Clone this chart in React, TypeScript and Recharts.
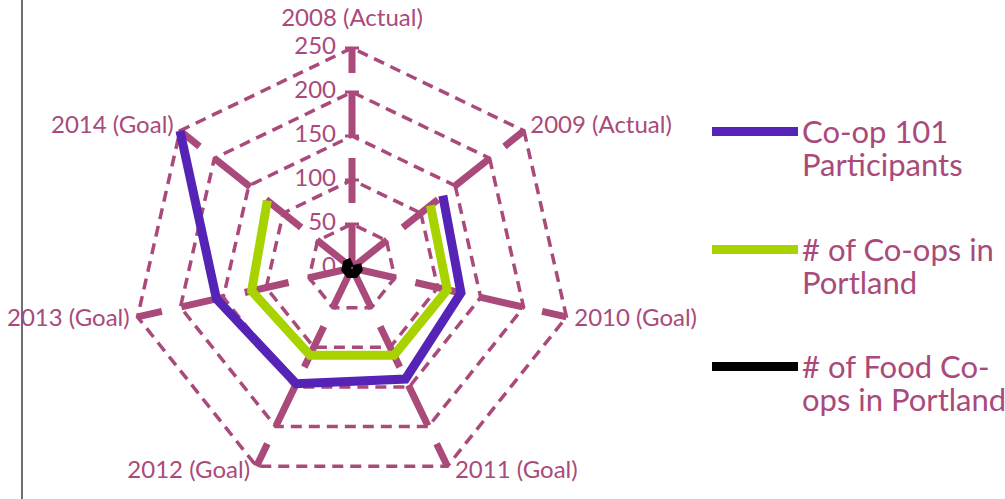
import React from 'react';
import { RadarChart, Radar, PolarGrid, PolarAngleAxis, PolarRadiusAxis, Legend } from 'recharts';

// Categories (2008 placed last so the open series start at 2009)
const years = ['2009 (Actual)', '2010 (Goal)', '2011 (Goal)', '2012 (Goal)', '2013 (Goal)', '2014 (Goal)', '2008 (Actual)'];
const coop101Participants = [132, 127, 140, 146, 158, 250, null];
const coopsInPortland = [114, 111, 110, 110, 117, 123, null];
const foodCoopsInPortland = [7, 7, 7, 7, 7, 7, 7];
const radiusTicks = [0, 50, 100, 150, 200, 250];

const seriesKeys = ['coop101', 'coops', 'food'];
const seriesNames = ['Co-op 101\nParticipants', '# of Co-ops in\nPortland', '# of Food Co-\nops in Portland'];
const seriesColors = ['#5523B5', '#A9D300', '#000000'];

const MAGENTA = '#A94A7B';
const FONT = 'Lato, "Open Sans", sans-serif';

const data = years.map((year, i) => ({
  year,
  coop101: coop101Participants[i],
  coops: coopsInPortland[i],
  food: foodCoopsInPortland[i],
}));

const AngleTick = (props: any) => {
  const { x, y, payload, textAnchor } = props;
  let dx = 0;
  let dy = 7;
  if (textAnchor === 'middle') dy = -14;
  else if (y > 400) {
    dy = 5;
    dx = textAnchor === 'start' ? 4 : -3;
  }
  return (
    <text x={x} y={y} dx={dx} dy={dy} textAnchor={textAnchor} fill={MAGENTA} fontSize={24} fontFamily={FONT}>
      {payload.value}
    </text>
  );
};

const RadiusTick = (props: any) => {
  const { x, y, payload } = props;
  return (
    <g>
      {payload.value > 0 && (
        <line x1={x - 7} x2={x + 7} y1={y} y2={y} stroke={MAGENTA} strokeWidth={3} />
      )}
      <text x={x - 16} y={y} dy={6} textAnchor="end" fill={MAGENTA} fontSize={24} fontFamily={FONT}>
        {payload.value}
      </text>
    </g>
  );
};

// Draws the series as an open line through the points Recharts computed, skipping empty values
const OpenLine = (props: any) => {
  const pts = (props.points || []).filter(
    (p: any) => p.value !== null && p.value !== undefined && Number.isFinite(p.x) && Number.isFinite(p.y)
  );
  if (!pts.length) return null;
  const d = pts.map((p: any, i: number) => `${i ? 'L' : 'M'}${p.x},${p.y}`).join('');
  return <path d={d} fill="none" stroke={props.stroke} strokeWidth={props.strokeWidth} strokeLinejoin="miter" />;
};

const LegendContent = (props: any) => {
  const payload = [...(props.payload || [])].sort(
    (a: any, b: any) => seriesKeys.indexOf(a.dataKey) - seriesKeys.indexOf(b.dataKey)
  );
  return (
    <div style={{ fontFamily: FONT, color: MAGENTA }}>
      {payload.map((p: any, i: number) => {
        const idx = seriesKeys.indexOf(p.dataKey);
        return (
          <div key={i} style={{ display: 'flex', alignItems: 'flex-start', height: 117.5 }}>
            <div style={{ width: 86, height: 9, background: seriesColors[idx], marginTop: 12, marginRight: 4, flex: '0 0 auto' }} />
            <div style={{ whiteSpace: 'pre', fontSize: 31, lineHeight: '33px' }}>{p.value}</div>
          </div>
        );
      })}
    </div>
  );
};

export default function App() {
  const start = 90 - 360 / 7;
  return (
    <div style={{ position: 'absolute', left: 0, top: 0, width: 1005, height: 499, overflow: 'hidden', background: '#fff' }}>
      <div style={{ position: 'absolute', left: 21, top: 0, width: 1.5, height: 499, background: '#6f6f6f' }} />
      <RadarChart
        width={1005}
        height={499}
        data={data}
        cx={352}
        cy={268}
        outerRadius={220}
        startAngle={start}
        endAngle={start - 360}
        margin={{ top: 0, right: 0, bottom: 0, left: 0 }}
      >
        <PolarGrid gridType="polygon" radialLines={false} stroke={MAGENTA} strokeWidth={3.5} strokeDasharray="11 7" />
        <PolarGrid gridType="polygon" polarRadius={[]} radialLines={true} stroke={MAGENTA} strokeWidth={7} strokeDasharray="45 20" />
        <PolarAngleAxis dataKey="year" tick={AngleTick} tickLine={false} axisLine={false} />
        <PolarRadiusAxis angle={90} type="number" domain={[0, 250]} ticks={radiusTicks} tickCount={6} tick={RadiusTick} axisLine={false} tickLine={false} />
        {seriesKeys.map((k, i) => (
          <Radar
            key={k}
            dataKey={k}
            name={seriesNames[i]}
            stroke={seriesColors[i]}
            strokeWidth={9}
            fill="none"
            fillOpacity={0}
            dot={false}
            shape={OpenLine}
            isAnimationActive={false}
          />
        ))}
        <Legend
          layout="vertical"
          align="right"
          verticalAlign="middle"
          content={LegendContent}
          wrapperStyle={{ left: 712, top: 115, width: 293 }}
        />
      </RadarChart>
    </div>
  );
}
